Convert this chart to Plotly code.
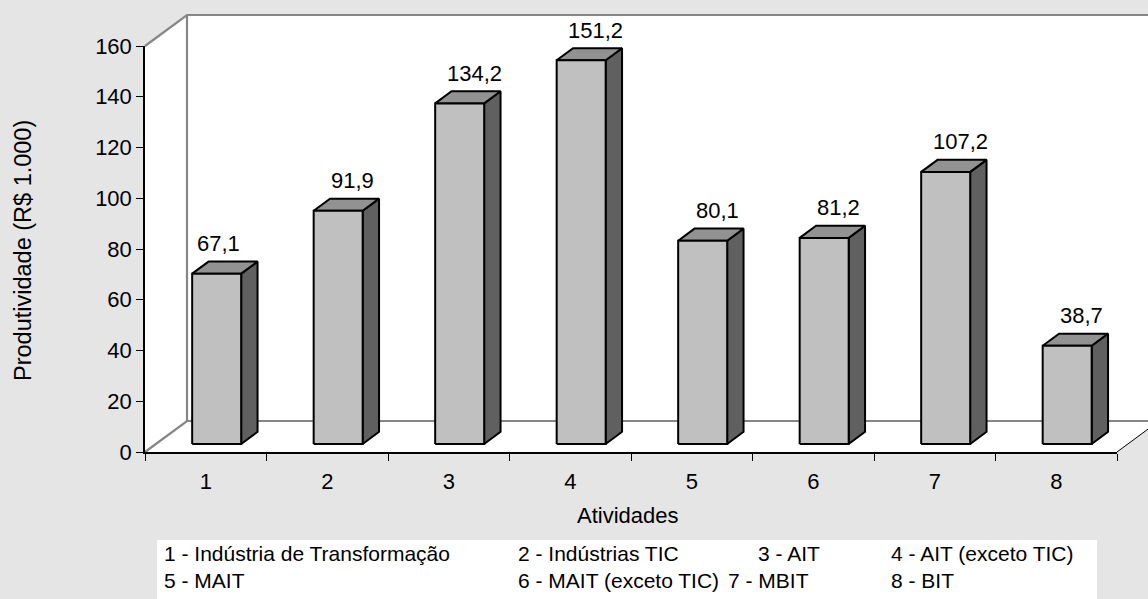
import plotly.graph_objects as go

# ---------------- data ----------------
categories = ["1", "2", "3", "4", "5", "6", "7", "8"]
values = [67.1, 91.9, 134.2, 151.2, 80.1, 81.2, 107.2, 38.7]
y_ticks = [0, 20, 40, 60, 80, 100, 120, 140, 160]
legend_row1 = ["1 - Indústria de Transformação", "2 - Indústrias TIC", "3 - AIT", "4 - AIT (exceto TIC)"]
legend_row2 = ["5 - MAIT", "6 - MAIT (exceto TIC)", "7 - MBIT", "8 - BIT"]
x_title = "Atividades"
y_title = "Produtividade (R$ 1.000)"

# ---------------- geometry (pixels) ----------------
W, H = 1148, 599
X0, X1 = 145, 1117      # front x axis
YB, YT = 452, 46        # front y axis (0 .. 160)
Y_MAX = 160
N = len(categories)
PPX = (X1 - X0) / N
PPY = (YB - YT) / Y_MAX
DX = 42 / PPX           # depth offset in x units
DY = 31 / PPY           # depth offset in y units
F0, F1 = 0.26, 0.65     # bar depth fractions
BW = 49 / PPX           # bar width in x units
LABEL_NUDGE_PX = {0: -13}   # small horizontal nudge of the first value label

def fx(px):
    return px / W

def fy(py):
    return 1 - py / H

FONT = "Liberation Sans, Arial, sans-serif"
FS = 22
FS_LEG = 21

# main (drawing) axes cover the whole 3D area
MX0, MX1 = 140, 1148
MYB, MYT = 458, 8
xr_main = [0.5 + (MX0 - X0) / PPX, 0.5 + (MX1 - X0) / PPX]
yr_main = [-(MYB - YB) / PPY, (YB - MYT) / PPY]

fig = go.Figure()

xa, xb = 0.5, N + 0.5
GRAY = "#868686"

def poly(xs, ys, fill, lc, lw):
    fig.add_trace(go.Scatter(x=xs + [xs[0]], y=ys + [ys[0]], mode="lines", fill="toself",
                             fillcolor=fill, line=dict(color=lc, width=lw),
                             hoverinfo="skip", showlegend=False))

def seg(xs, ys, lc, lw):
    fig.add_trace(go.Scatter(x=xs, y=ys, mode="lines", line=dict(color=lc, width=lw),
                             hoverinfo="skip", showlegend=False))

# walls and floor
poly([xa, xa, xa + DX, xa + DX], [0, Y_MAX, Y_MAX + DY, DY], "white", "rgba(0,0,0,0)", 0)
poly([xa + DX, xa + DX, xb + DX, xb + DX], [DY, Y_MAX + DY, Y_MAX + DY, DY], "white", "rgba(0,0,0,0)", 0)
poly([xa, xb, xb + DX, xa + DX], [0, 0, DY, DY], "white", "rgba(0,0,0,0)", 0)
seg([xa, xa + DX, xb + DX], [Y_MAX, Y_MAX + DY, Y_MAX + DY], GRAY, 2.2)
seg([xa + DX, xa + DX], [DY, Y_MAX + DY], GRAY, 2.2)
seg([xa, xa + DX, xb + DX], [0, DY, DY], GRAY, 2.2)
seg([xb, xb + DX], [0, DY], "black", 1)

# bars
for i, v in enumerate(values):
    c = i + 1
    xl, xr = c - BW / 2, c + BW / 2
    fxl, fxr, fyb = xl + F0 * DX, xr + F0 * DX, F0 * DY
    bxl, bxr, byb = xl + F1 * DX, xr + F1 * DX, F1 * DY
    # side face
    poly([fxr, bxr, bxr, fxr], [fyb, byb, v + byb, v + fyb], "#606060", "black", 2)
    # top face
    poly([fxl, fxr, bxr, bxl], [v + fyb, v + fyb, v + byb, v + byb], "#929292", "black", 2)
    # front face
    poly([fxl, fxr, fxr, fxl], [fyb, fyb, v + fyb, v + fyb], "#c0c0c0", "black", 2)
    fig.add_annotation(x=c + F1 * DX - 0.015, y=v + byb, xref="x", yref="y",
                       text=f"{v:.1f}".replace(".", ","), showarrow=False,
                       yanchor="middle", yshift=18, xshift=LABEL_NUDGE_PX.get(i, 0),
                       font=dict(family=FONT, size=FS, color="black"))

# empty traces so the tick axes render
fig.add_trace(go.Scatter(x=[], y=[], xaxis="x2", yaxis="y2", showlegend=False))
fig.add_trace(go.Scatter(x=[], y=[], xaxis="x3", yaxis="y2", showlegend=False))

cat_pos = [i + 1 for i in range(N)]
bounds = [i + 0.5 for i in range(N + 1)]

fig.update_layout(
    width=W, height=H, autosize=False,
    margin=dict(l=0, r=0, t=0, b=0, pad=0, autoexpand=False),
    paper_bgcolor="#e5e5e5", plot_bgcolor="rgba(0,0,0,0)",
    font=dict(family=FONT, size=FS, color="black"),
    showlegend=False, hovermode=False,
    xaxis=dict(domain=[fx(MX0), fx(MX1)], range=xr_main, visible=False, fixedrange=True),
    yaxis=dict(domain=[fy(MYB), fy(MYT)], range=yr_main, visible=False, fixedrange=True),
    xaxis2=dict(domain=[fx(X0), fx(X1)], range=[xa, xb], anchor="y2",
                tickvals=bounds, ticktext=[""] * len(bounds), ticks="outside", ticklen=7,
                tickcolor="black", tickwidth=1, showline=True, linecolor="black", linewidth=1.5,
                showgrid=False, zeroline=False, fixedrange=True, automargin=False),
    xaxis3=dict(domain=[fx(X0), fx(X1)], range=[xa, xb], anchor="y2",
                tickvals=cat_pos, ticktext=categories, ticks="outside", ticklen=10,
                tickcolor="rgba(0,0,0,0)", showline=False, showgrid=False, zeroline=False,
                fixedrange=True, automargin=False),
    yaxis2=dict(domain=[fy(YB), fy(YT)], range=[0, Y_MAX], anchor="x2",
                tickvals=y_ticks, ticks="outside", ticklen=7, tickcolor="black", tickwidth=1,
                showline=True, linecolor="black", linewidth=1.5, showgrid=False, zeroline=False,
                fixedrange=True, automargin=False),
)

# axis titles
fig.add_annotation(x=fx(628), y=fy(515), xref="paper", yref="paper", text=x_title,
                   showarrow=False, xanchor="center", yanchor="middle")
fig.add_annotation(x=fx(23), y=fy(251), xref="paper", yref="paper", text=y_title,
                   showarrow=False, textangle=-90, xanchor="center", yanchor="middle",
                   font=dict(family=FONT, size=23.5, color="black"))

# legend box
fig.add_shape(type="rect", xref="paper", yref="paper", x0=fx(157), x1=fx(1097), y0=0, y1=fy(540),
              fillcolor="white", line=dict(width=0), layer="below")
col_x1 = [162, 516, 756, 889]
col_x2 = [162, 516, 726, 889]
for t, px in zip(legend_row1, col_x1):
    fig.add_annotation(x=fx(px), y=fy(553), xref="paper", yref="paper", text=t,
                       showarrow=False, xanchor="left", yanchor="middle",
                       font=dict(family=FONT, size=FS_LEG, color="black"))
for t, px in zip(legend_row2, col_x2):
    fig.add_annotation(x=fx(px), y=fy(580), xref="paper", yref="paper", text=t,
                       showarrow=False, xanchor="left", yanchor="middle",
                       font=dict(family=FONT, size=FS_LEG, color="black"))

fig.write_html("out.html", config={"displayModeBar": False},
               post_script="document.body.style.margin='0';")
